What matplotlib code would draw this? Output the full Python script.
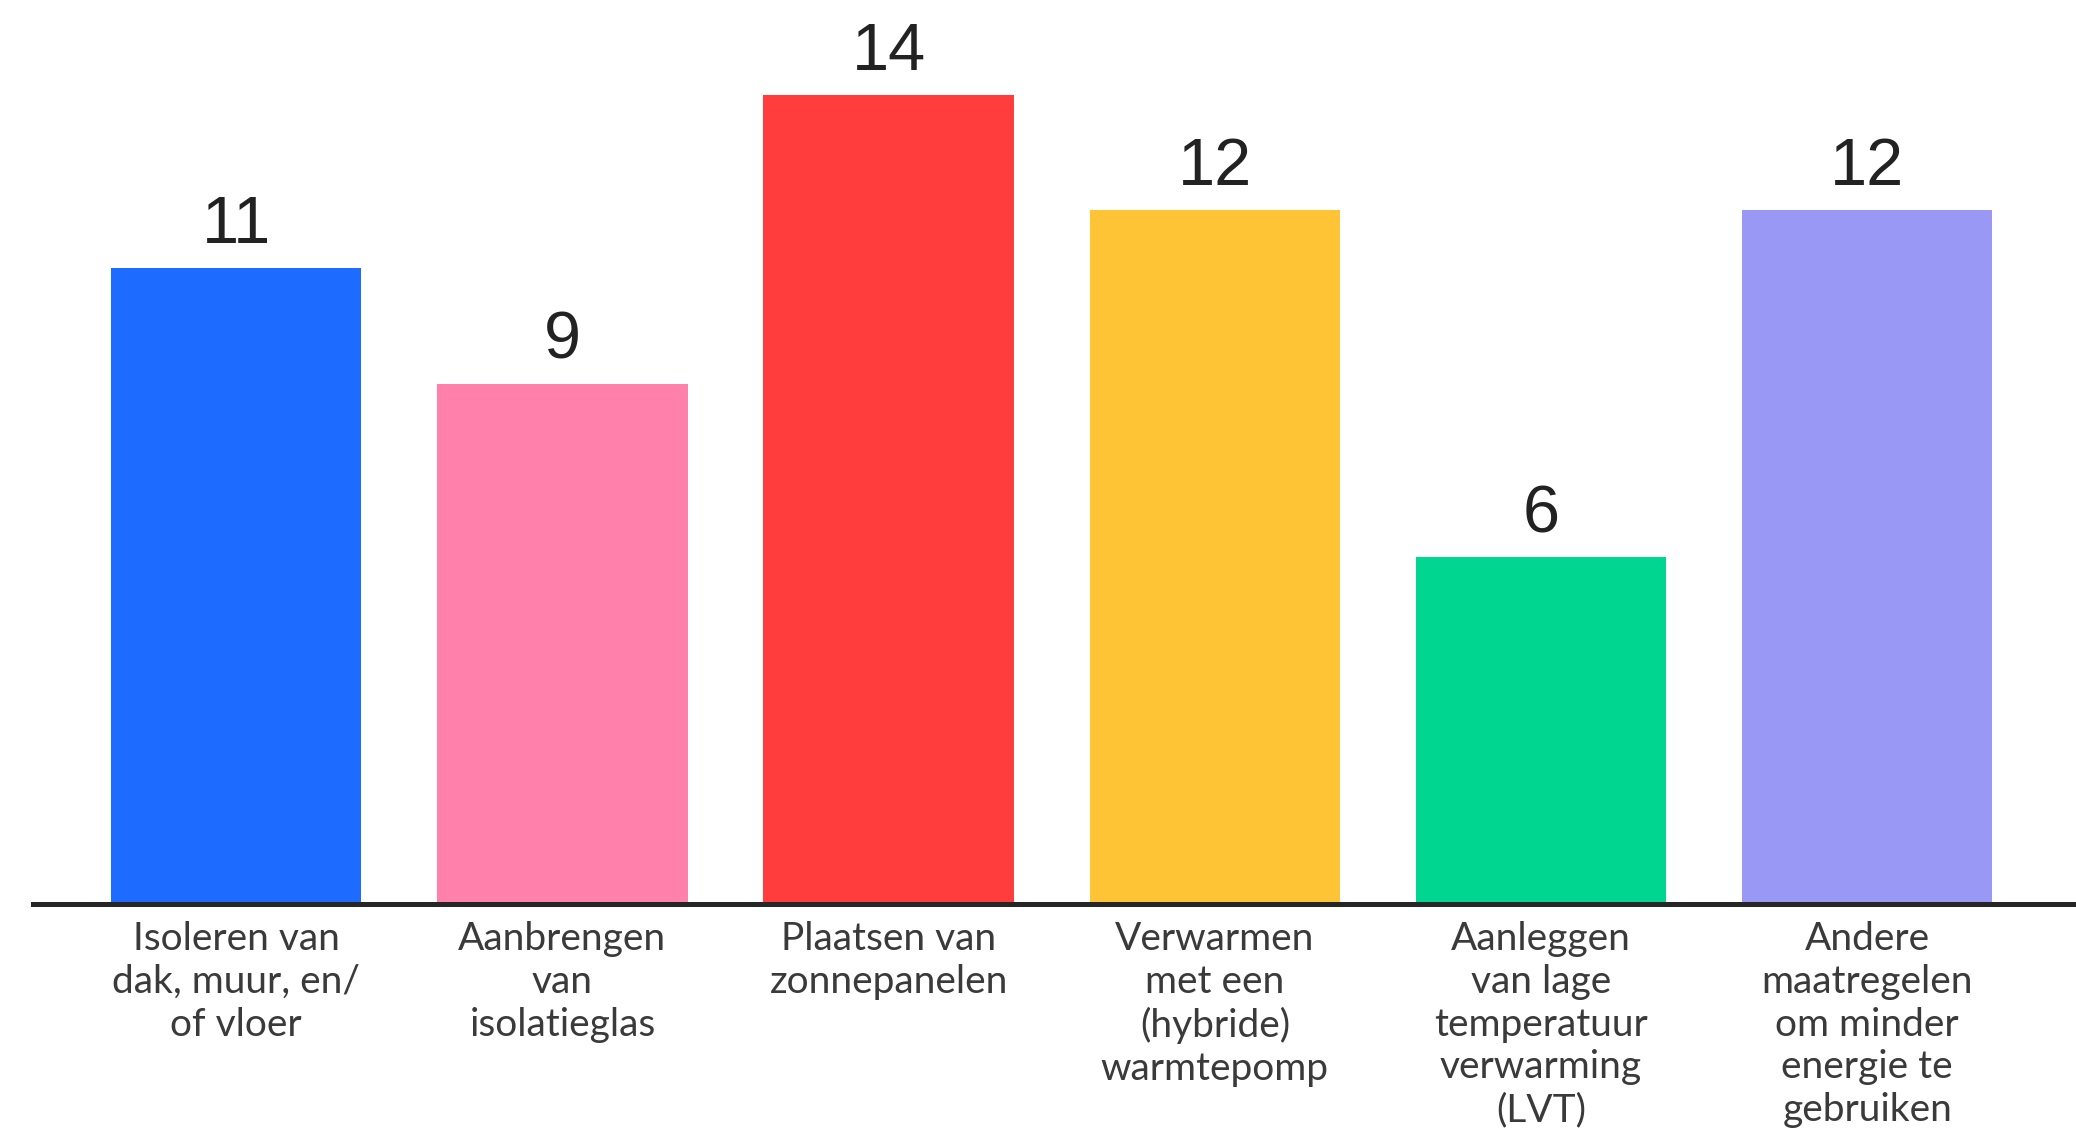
import matplotlib
matplotlib.use("Agg")
import matplotlib.pyplot as plt

categories = [
    "Isoleren van\ndak, muur, en/\nof vloer",
    "Aanbrengen\nvan\nisolatieglas",
    "Plaatsen van\nzonnepanelen",
    "Verwarmen\nmet een\n(hybride)\nwarmtepomp",
    "Aanleggen\nvan lage\ntemperatuur\nverwarming\n(LVT)",
    "Andere\nmaatregelen\nom minder\nenergie te\ngebruiken",
]
values = [11, 9, 14, 12, 6, 12]
colors = ["#1E6BFF", "#FF80AA", "#FF3D3D", "#FFC435", "#00D68F", "#9999F5"]

DPI = 100
fig = plt.figure(figsize=(20.76, 11.38), dpi=DPI)
ax = fig.add_axes([33 / 2076, 1 - 904 / 1138, 2043 / 2076, 904 / 1138])

x = list(range(len(values)))
bars = ax.bar(x, values, width=0.768, color=colors, zorder=2)

ax.set_xlim(-0.623, 5.64)
ax.set_ylim(0, 15.64)

for xi, v in zip(x, values):
    ax.annotate(str(v), (xi, v), xytext=(0, 18), textcoords="offset points",
                ha="center", va="baseline", fontsize=48,
                family="Liberation Sans", color="#222222")

for s in ["top", "left", "right"]:
    ax.spines[s].set_visible(False)
ax.spines["bottom"].set_linewidth(3.6)
ax.spines["bottom"].set_color("#262626")
ax.spines["bottom"].set_zorder(3)
ax.set_yticks([])
ax.set_xticks(x)
ax.set_xticklabels(categories, fontsize=28, family="Lato", color="#3a3a3a")
ax.tick_params(axis="x", length=0, pad=12.5)
for t in ax.get_xticklabels():
    t.set_linespacing(1.23)

fig.savefig("out.png", dpi=DPI, facecolor="white")
